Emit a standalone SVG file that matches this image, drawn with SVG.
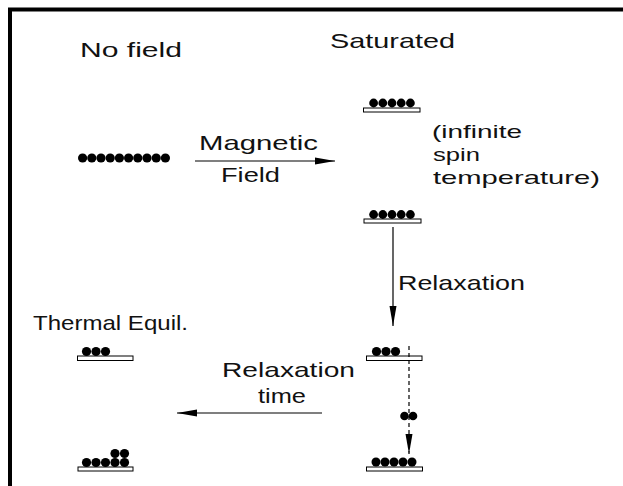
<svg xmlns="http://www.w3.org/2000/svg" width="623" height="486" viewBox="0 0 623 486">
<style>
text{font-family:"Liberation Sans",Arial,sans-serif;font-size:21px;fill:#111}
.sm{font-size:19px}
.bar{fill:#fff;stroke:#000;stroke-width:1}
.ball{fill:#000}
.ln{stroke:#000;stroke-width:1.2;fill:none}
</style>
<defs>
<marker id="ah" markerWidth="20" markerHeight="8" refX="20" refY="4" orient="auto" markerUnits="userSpaceOnUse"><path d="M0,0.5 L20,4 L0,7.5 Z" fill="#000"/></marker>
</defs>
<rect width="623" height="486" fill="#fff"/>
<path d="M10,486 V9.5 H623" stroke="#000" stroke-width="4" fill="none"/>
<g id="labels">
<text x="80" y="57" textLength="102" lengthAdjust="spacingAndGlyphs">No field</text>
<text x="330" y="48" textLength="125" lengthAdjust="spacingAndGlyphs">Saturated</text>
<text class="sm" x="432" y="138" textLength="90" lengthAdjust="spacingAndGlyphs">(infinite</text>
<text class="sm" x="433" y="161" textLength="47" lengthAdjust="spacingAndGlyphs">spin</text>
<text class="sm" x="433" y="184" textLength="167" lengthAdjust="spacingAndGlyphs">temperature)</text>
<text x="33" y="330" textLength="155" lengthAdjust="spacingAndGlyphs">Thermal Equil.</text>
</g>
<g id="nofield">
<g class="ball">
<circle cx="82.6" cy="158" r="4.6"/><circle cx="91.8" cy="158" r="4.6"/><circle cx="101" cy="158" r="4.6"/><circle cx="110.2" cy="158" r="4.6"/><circle cx="119.4" cy="158" r="4.6"/><circle cx="128.6" cy="158" r="4.6"/><circle cx="137.8" cy="158" r="4.6"/><circle cx="147" cy="158" r="4.6"/><circle cx="156.2" cy="158" r="4.6"/><circle cx="165.4" cy="158" r="4.6"/>
</g>
</g>
<g id="sat-top">
<rect class="bar" x="363.5" y="108" width="56.5" height="4"/>
<g class="ball"><circle cx="373.6" cy="103" r="4.4"/><circle cx="382.8" cy="103" r="4.4"/><circle cx="392" cy="103" r="4.4"/><circle cx="401.2" cy="103" r="4.4"/><circle cx="410.4" cy="103" r="4.4"/></g>
</g>
<g id="sat-bottom">
<rect class="bar" x="364" y="219" width="57" height="4"/>
<g class="ball"><circle cx="373.6" cy="214.5" r="4.4"/><circle cx="382.8" cy="214.5" r="4.4"/><circle cx="392" cy="214.5" r="4.4"/><circle cx="401.2" cy="214.5" r="4.4"/><circle cx="410.4" cy="214.5" r="4.4"/></g>
</g>
<g id="therm-top">
<rect class="bar" x="77.5" y="356" width="55.5" height="4.5"/>
<g class="ball"><circle cx="86.5" cy="351.5" r="4.6"/><circle cx="96" cy="351.5" r="4.6"/><circle cx="105.5" cy="351.5" r="4.6"/></g>
</g>
<g id="therm-bottom">
<rect class="bar" x="78" y="467" width="55" height="4"/>
<g class="ball"><circle cx="86.5" cy="462.5" r="4.6"/><circle cx="96" cy="462.5" r="4.6"/><circle cx="105.5" cy="462.5" r="4.6"/><circle cx="115" cy="462.5" r="4.6"/><circle cx="124.5" cy="462.5" r="4.6"/><circle cx="115" cy="453.5" r="4.6"/><circle cx="124.5" cy="453.5" r="4.6"/></g>
</g>
<g id="relax-top">
<rect class="bar" x="366.5" y="356" width="55.5" height="4.5"/>
<g class="ball"><circle cx="376.5" cy="351.5" r="4.6"/><circle cx="386" cy="351.5" r="4.6"/><circle cx="395.5" cy="351.5" r="4.6"/></g>
</g>
<g id="relax-mid">
<g class="ball"><circle cx="404.5" cy="416" r="4.3"/><circle cx="413" cy="416" r="4.3"/></g>
</g>
<g id="relax-bottom">
<rect class="bar" x="366.5" y="467" width="56" height="4"/>
<g class="ball"><circle cx="376" cy="462" r="4.5"/><circle cx="385" cy="462" r="4.5"/><circle cx="394" cy="462" r="4.5"/><circle cx="403" cy="462" r="4.5"/><circle cx="412" cy="462" r="4.5"/></g>
</g>
<g id="connectors">
<line class="ln" x1="195" y1="161" x2="335" y2="161" marker-end="url(#ah)"/>
<text x="199" y="150" textLength="119" lengthAdjust="spacingAndGlyphs">Magnetic</text>
<text x="221" y="182" textLength="59" lengthAdjust="spacingAndGlyphs">Field</text>
<line class="ln" x1="393" y1="227" x2="393" y2="326" marker-end="url(#ah)"/>
<text x="398" y="290" textLength="127" lengthAdjust="spacingAndGlyphs">Relaxation</text>
<line class="ln" x1="322" y1="413" x2="177" y2="413" marker-end="url(#ah)"/>
<text x="222" y="377" textLength="133" lengthAdjust="spacingAndGlyphs">Relaxation</text>
<text x="258" y="403" textLength="48" lengthAdjust="spacingAndGlyphs">time</text>
<line class="ln" x1="409" y1="346" x2="409" y2="454" stroke-dasharray="4,3" marker-end="url(#ah)"/>
</g>
</svg>
